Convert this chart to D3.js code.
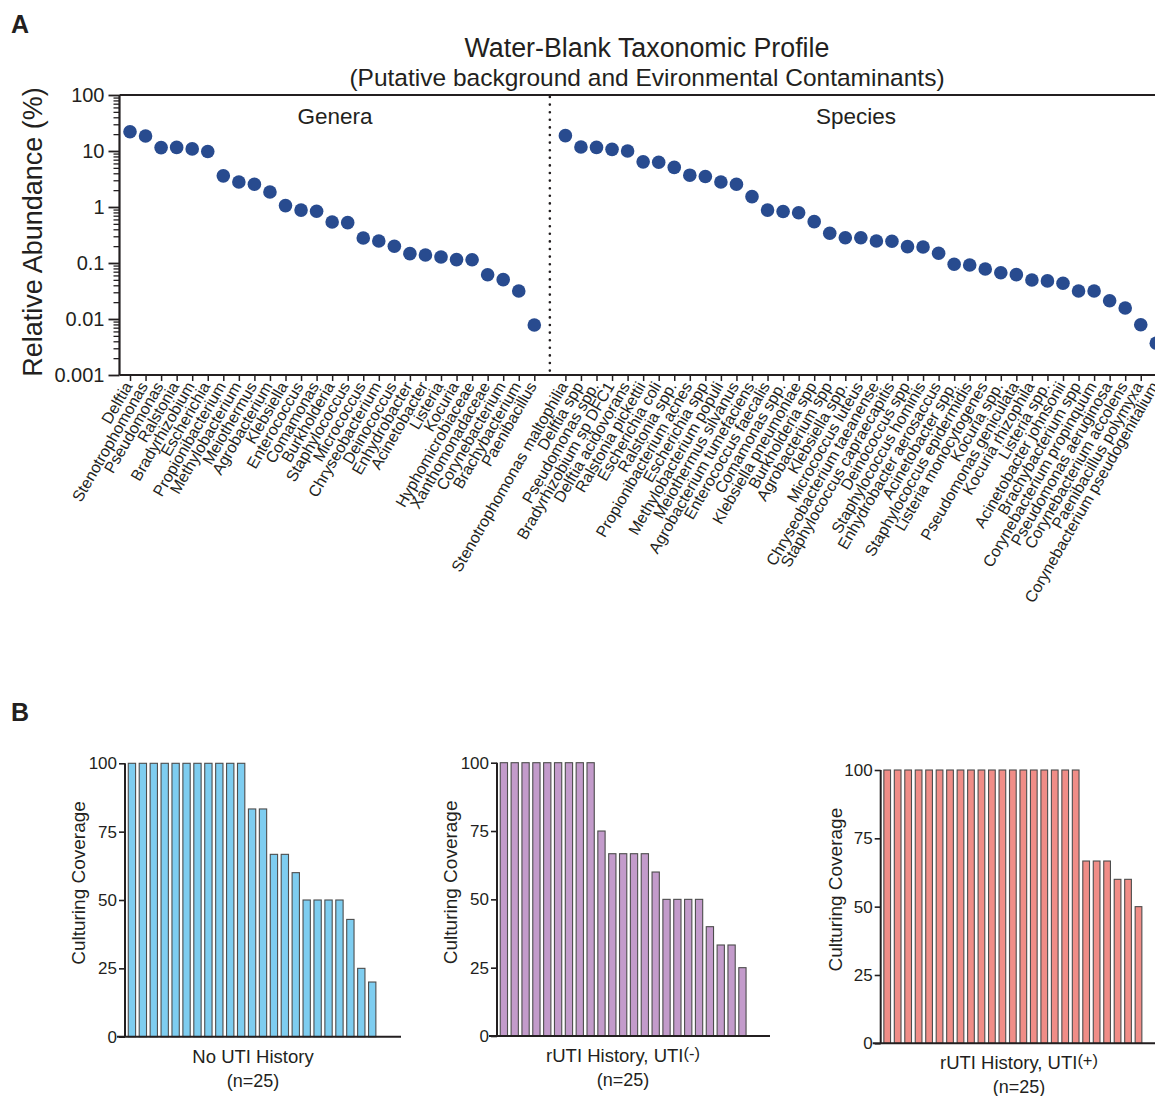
<!DOCTYPE html>
<html>
<head>
<meta charset="utf-8">
<script src="https://d3js.org/d3.v7.min.js"></script>
<style>
  body { margin: 0; background: #fff; }
  svg { font-family: "Liberation Sans", Arial, sans-serif; }
  text { fill: #231f20; }
</style>
</head>
<body>
<div id="chart"></div>
<script>
// Data: genera and species abundance (%)
const GENERA = ["Delftia", "Stenotrophomonas", "Pseudomonas", "Ralstonia", "Bradyrhizobium",
  "Escherichia", "Propionibacterium", "Methylobacterium", "Meiothermus", "Agrobacterium",
  "Klebsiella", "Enterococcus", "Comamonas", "Burkholderia", "Staphylococcus", "Micrococcus",
  "Chryseobacterium", "Deinococcus", "Enhydrobacter", "Acinetobacter", "Listeria", "Kocuria",
  "Hyphomicrobiaceae", "Xanthomonadaceae", "Corynebacterium", "Brachybacterium", "Paenibacillus"];
const GENERA_VALUES = [22.1, 18.5, 11.5, 11.6, 10.9, 9.8, 3.6, 2.8, 2.55, 1.85, 1.06, 0.88, 0.84,
  0.54, 0.525, 0.28, 0.247, 0.199, 0.147, 0.139, 0.128, 0.115, 0.114, 0.0618, 0.0504, 0.0316, 0.0078];

const SPECIES = ["Stenotrophomonas maltophilia", "Delftia spp", "Pseudomonas spp.",
  "Bradyrhizobium sp DFC1", "Delftia acidovorans", "Ralstonia pickettii", "Escherichia coli",
  "Ralstonia spp.", "Propionibacterium acnes", "Escherichia spp", "Methylobacterium populi",
  "Meiothermus silvanus", "Agrobacterium tumefaciens", "Enterococcus faecalis", "Comamonas spp.",
  "Klebsiella pneumoniae", "Burkholderia spp", "Agrobacterium spp", "Klebsiella spp.",
  "Micrococcus luteus", "Chryseobacterium taeanense", "Staphylococcus capraecapitis",
  "Deinococcus spp", "Staphylococcus hominis", "Enhydrobacter aerosaccus", "Acinetobacter spp.",
  "Staphylococcus epidermidis", "Listeria monocytogenes", "Kocuria spp.", "Pseudomonas geniculata",
  "Kocuria rhizophila", "Listeria spp.", "Acinetobacter johnsonii", "Brachybacterium spp",
  "Corynebacterium propinquum", "Pseudomonas aeruginosa", "Corynebacterium accolens",
  "Paenibacillus polymyxa", "Corynebacterium pseudogenitalium"];
const SPECIES_VALUES = [18.8, 11.8, 11.6, 10.7, 10.0, 6.4, 6.3, 5.1, 3.7, 3.5, 2.8, 2.55, 1.53,
  0.88, 0.83, 0.79, 0.547, 0.339, 0.283, 0.283, 0.247, 0.245, 0.196, 0.193, 0.149, 0.0948, 0.092,
  0.078, 0.067, 0.062, 0.0497, 0.0479, 0.0434, 0.0316, 0.0316, 0.0212, 0.0157, 0.0079, 0.0037];

const Y_TICKS_A = [0.001, 0.01, 0.1, 1, 10, 100];

// Data: culturing coverage per patient, three groups
const NO_UTI = [100, 100, 100, 100, 100, 100, 100, 100, 100, 100, 100, 83.3, 83.3, 66.7, 66.7,
  60, 50, 50, 50, 50, 42.9, 25, 20, 0, 0];
const RUTI_NEG = [100, 100, 100, 100, 100, 100, 100, 100, 100, 75, 66.7, 66.7, 66.7, 66.7, 60,
  50, 50, 50, 50, 40, 33.3, 33.3, 25, 0, 0];
const RUTI_POS = [100, 100, 100, 100, 100, 100, 100, 100, 100, 100, 100, 100, 100, 100, 100,
  100, 100, 100, 100, 66.7, 66.7, 66.7, 60, 60, 50];
const Y_TICKS_B = [0, 25, 50, 75, 100];

// Frame
const FRAME_WIDTH = 1155;
const FRAME_HEIGHT = 1096;
const INK = "#231f20";

const FRAME = d3.select("#chart")
  .append("svg")
    .attr("width", FRAME_WIDTH)
    .attr("height", FRAME_HEIGHT);

// ---------- Panel A ----------
const A = {left: 119.5, top: 95, bottom: 375, first: 130, last: 1156.3};

// one slot for each genus, one for the divider, then each species
const SLOTS = GENERA.concat(["__divider__"], SPECIES);
const X_SCALE = d3.scalePoint()
  .domain(SLOTS)
  .range([A.first, A.last]);

const Y_SCALE = d3.scaleLog()
  .domain([0.001, 100])
  .range([A.bottom, A.top]);

// panel letters
FRAME.append("text").attr("x", 11).attr("y", 33)
  .attr("font-size", 25).attr("font-weight", "bold").text("A");
FRAME.append("text").attr("x", 11).attr("y", 721)
  .attr("font-size", 25).attr("font-weight", "bold").text("B");

// titles
FRAME.append("text").attr("x", 647).attr("y", 57)
  .attr("text-anchor", "middle").attr("font-size", 26.8)
  .text("Water-Blank Taxonomic Profile");
FRAME.append("text").attr("x", 647).attr("y", 86)
  .attr("text-anchor", "middle").attr("font-size", 24.5)
  .text("(Putative background and Evironmental Contaminants)");
FRAME.append("text").attr("x", 335).attr("y", 124)
  .attr("text-anchor", "middle").attr("font-size", 22.5).text("Genera");
FRAME.append("text").attr("x", 856).attr("y", 124)
  .attr("text-anchor", "middle").attr("font-size", 22.5).text("Species");

// y label
FRAME.append("text")
  .attr("transform", "translate(42,232) rotate(-90)")
  .attr("text-anchor", "middle").attr("font-size", 27)
  .text("Relative Abundance (%)");

// minor ticks of the log axis
const MINOR = [];
for (let e = -3; e < 2; e++) {
  for (let m = 2; m <= 9; m++) MINOR.push(m * Math.pow(10, e));
}
FRAME.append("g")
  .attr("transform", "translate(" + A.left + ",0)")
  .call(d3.axisLeft(Y_SCALE).tickValues(MINOR).tickSize(6).tickFormat(""))
  .call(g => g.select(".domain").remove())
  .call(g => g.selectAll("line").attr("stroke", INK).attr("stroke-width", 1.3));

// major ticks + labels
FRAME.append("g")
  .attr("transform", "translate(" + A.left + ",0)")
  .call(d3.axisLeft(Y_SCALE).tickValues(Y_TICKS_A).tickSize(11).tickPadding(4)
    .tickFormat(d => d >= 1 ? d3.format("d")(d) : String(d)))
  .call(g => g.select(".domain").attr("stroke", INK).attr("stroke-width", 2.2)
    .attr("d", "M0," + A.top + "V" + A.bottom))
  .call(g => g.selectAll("line").attr("stroke", INK).attr("stroke-width", 1.8))
  .call(g => g.selectAll("text").attr("font-size", 20).attr("fill", INK)
    .style("font-family", "Liberation Sans, Arial, sans-serif"));

// top frame line
FRAME.append("line")
  .attr("x1", A.left).attr("x2", FRAME_WIDTH)
  .attr("y1", A.top).attr("y2", A.top)
  .attr("stroke", INK).attr("stroke-width", 2.2);

// x axis with a tick per taxon
const X_AXIS = FRAME.append("g")
  .attr("transform", "translate(0," + A.bottom + ")")
  .call(d3.axisBottom(X_SCALE).tickValues(GENERA.concat(SPECIES)).tickSize(6).tickFormat(""));
X_AXIS.select(".domain").attr("stroke", INK).attr("stroke-width", 2.2)
  .attr("d", "M" + A.left + ",0H" + FRAME_WIDTH);
X_AXIS.selectAll("line").attr("stroke", INK).attr("stroke-width", 1.5);

// rotated taxon labels
FRAME.append("g").selectAll("text")
  .data(GENERA.concat(SPECIES))
  .enter().append("text")
    .attr("transform", d => "translate(" + (X_SCALE(d) + 3) + "," + (A.bottom + 11) + ") rotate(-60)")
    .attr("text-anchor", "end")
    .attr("font-size", 16)
    .text(d => d);

// dotted divider between genera and species
FRAME.append("line")
  .attr("x1", X_SCALE("__divider__")).attr("x2", X_SCALE("__divider__"))
  .attr("y1", A.top + 2).attr("y2", A.bottom)
  .attr("stroke", INK).attr("stroke-width", 2.6)
  .attr("stroke-linecap", "round")
  .attr("stroke-dasharray", "0 7.6");

// points
const POINTS = GENERA.map((g, i) => ({name: g, value: GENERA_VALUES[i]}))
  .concat(SPECIES.map((s, i) => ({name: s, value: SPECIES_VALUES[i]})));

FRAME.selectAll(".point")
  .data(POINTS)
  .enter().append("circle")
    .attr("class", "point")
    .attr("cx", d => X_SCALE(d.name))
    .attr("cy", d => Y_SCALE(d.value))
    .attr("r", 6.8)
    .attr("fill", "#284b8f");

// ---------- Panel B ----------
function build_barchart(data, opts) {
  const Y = d3.scaleLinear().domain([0, 100]).range([opts.bottom, opts.top]);
  const X = d3.scaleBand()
    .domain(data.map((d, i) => i))
    .range([opts.left, opts.right])
    .paddingInner(opts.pad)
    .paddingOuter(0.3);

  // bars
  FRAME.append("g").selectAll("rect")
    .data(data.map((d, i) => ({i: i, v: d})).filter(d => d.v > 0))
    .enter().append("rect")
      .attr("x", d => X(d.i))
      .attr("y", d => Y(d.v))
      .attr("width", X.bandwidth())
      .attr("height", d => opts.bottom - Y(d.v))
      .attr("fill", opts.fill)
      .attr("stroke", "#4d4d4d")
      .attr("stroke-width", 1.1);

  // y axis
  FRAME.append("g")
    .attr("transform", "translate(" + opts.left + ",0)")
    .call(d3.axisLeft(Y).tickValues(Y_TICKS_B).tickSize(6).tickPadding(2))
    .call(g => g.select(".domain").attr("stroke", INK).attr("stroke-width", 2)
      .attr("d", "M0," + opts.top + "V" + opts.bottom))
    .call(g => g.selectAll("line").attr("stroke", INK).attr("stroke-width", 1.6))
    .call(g => g.selectAll("text").attr("font-size", 17).attr("fill", INK)
      .style("font-family", "Liberation Sans, Arial, sans-serif"));

  // x axis line
  FRAME.append("line")
    .attr("x1", opts.left - 8).attr("x2", opts.axisEnd)
    .attr("y1", opts.bottom).attr("y2", opts.bottom)
    .attr("stroke", INK).attr("stroke-width", 2);

  // y label
  FRAME.append("text")
    .attr("transform", "translate(" + opts.ylabX + "," + ((opts.top + opts.bottom) / 2 - 17) + ") rotate(-90)")
    .attr("text-anchor", "middle").attr("font-size", 19)
    .text("Culturing Coverage");

  // x label, two lines
  const cx = opts.labelX;
  const lab = FRAME.append("text")
    .attr("x", cx).attr("y", opts.bottom + 26)
    .attr("text-anchor", "middle").attr("font-size", 18.5);
  lab.append("tspan").text(opts.label);
  if (opts.sign) {
    lab.append("tspan").attr("font-size", 16.5).attr("dy", -3).text("(" + opts.sign + ")");
  }
  FRAME.append("text")
    .attr("x", cx).attr("y", opts.bottom + 50)
    .attr("text-anchor", "middle").attr("font-size", 18)
    .text("(n=25)");
}

build_barchart(NO_UTI, {left: 125, right: 401, top: 763.3, bottom: 1036.7, axisEnd: 401,
  pad: 0.33, fill: "#7ecdf0", ylabX: 85, labelX: 253, label: "No UTI History"});
build_barchart(RUTI_NEG, {left: 497, right: 771, top: 762.7, bottom: 1036, axisEnd: 770,
  pad: 0.33, fill: "#c39bcb", ylabX: 457, labelX: 623, label: "rUTI History, UTI", sign: "-"});
build_barchart(RUTI_POS, {left: 880.7, right: 1145, top: 770, bottom: 1043.3, axisEnd: 1155,
  pad: 0.36, fill: "#f08d87", ylabX: 842, labelX: 1019, label: "rUTI History, UTI", sign: "+"});
</script>
</body>
</html>
